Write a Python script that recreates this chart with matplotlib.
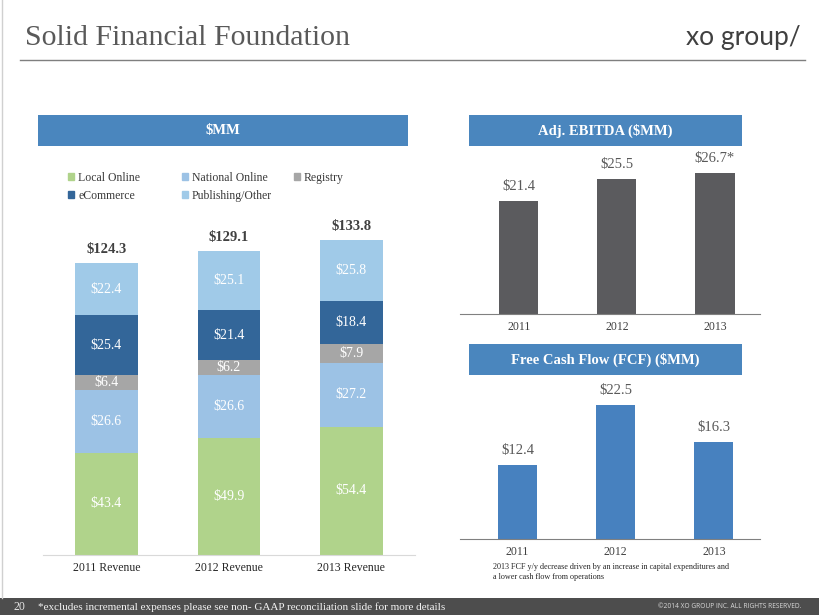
import matplotlib
matplotlib.use('Agg')
import matplotlib.pyplot as plt
from matplotlib.patches import Rectangle, Patch
from matplotlib.lines import Line2D
import numpy as np

plt.rcParams['font.family'] = ['Liberation Serif', 'DejaVu Serif']

W, H = 820, 615

# данні
rev_cats = ['2011 Revenue', '2012 Revenue', '2013 Revenue']
rev_series = ['Local Online', 'National Online', 'Registry', 'eCommerce', 'Publishing/Other']
local_online = [43.4, 49.9, 54.4]
national_online = [26.6, 26.6, 27.2]
registry = [6.4, 6.2, 7.9]
ecommerce = [25.4, 21.4, 18.4]
publishing = [22.4, 25.1, 25.8]
rev_totals = [124.3, 129.1, 133.8]

years = ['2011', '2012', '2013']
ebitda = [21.4, 25.5, 26.7]
ebitda_labels = ['$21.4', '$25.5', '$26.7*']
fcf = [12.4, 22.5, 16.3]

seg_colors = ['#B0D38B', '#9CC2E5', '#A6A6A6', '#336699', '#A0CAE8']
header_blue = '#4A86BE'


def fx(px):
    return px / W


def fy(py):
    return 1 - py / H


def box(x0, y0, x1, y1):
    return [fx(x0), fy(y1), fx(x1) - fx(x0), fy(y0) - fy(y1)]


fig = plt.figure(figsize=(8.2, 6.15), dpi=100)
fig.patch.set_facecolor('white')

# заголовок
fig.text(fx(25), fy(38), 'Solid Financial Foundation', fontsize=21.5, color='#595959',
         ha='left', va='center')
fig.text(fx(801), fy(37), 'xo group/', fontsize=19, color='#404040', ha='right', va='center',
         family=['Lato', 'DejaVu Sans'])
fig.add_artist(Line2D([fx(20), fx(805)], [fy(60), fy(60)], color='#7F7F7F', lw=1,
                      transform=fig.transFigure))
fig.add_artist(Line2D([fx(2), fx(2)], [fy(0), fy(598)], color='#D0D0D0', lw=1,
                      transform=fig.transFigure))


def header(x0, y0, x1, y1, text):
    fig.add_artist(Rectangle((fx(x0), fy(y1)), fx(x1) - fx(x0), fy(y0) - fy(y1),
                             transform=fig.transFigure, color=header_blue, lw=0))
    fig.text(fx((x0 + x1) / 2), fy((y0 + y1) / 2), text, color='white', fontsize=10.5,
             fontweight='bold', ha='center', va='center')


header(38, 115, 408, 146, '$MM')
header(469, 115, 742, 146, 'Adj. EBITDA ($MM)')
header(469, 344, 742, 375, 'Free Cash Flow (FCF) ($MM)')

# Стовпчаста діаграма доходу
ax = fig.add_axes(box(43, 165, 415, 555))
x = np.arange(len(rev_cats))
bottom = np.zeros(len(rev_cats))
handles = []
for name, vals, col in zip(rev_series, [local_online, national_online, registry, ecommerce, publishing],
                           seg_colors):
    ax.bar(x, vals, bottom=bottom, width=0.51, color=col, lw=0)
    for xi, b, v in zip(x, bottom, vals):
        ax.text(xi, b + v / 2, '$%.1f' % v, color='white', fontsize=10, ha='center', va='center')
    bottom = bottom + np.array(vals)
    handles.append(Patch(color=col, label=name))
for xi, top, t in zip(x, bottom, rev_totals):
    ax.annotate('$%.1f' % t, (xi, top), xytext=(0, 5), textcoords='offset points',
                ha='center', va='bottom', fontsize=10.5, fontweight='bold', color='#404040')
ax.set_xlim(-0.517, 2.52)
ax.set_ylim(0, 165.7)
ax.set_xticks(x)
ax.set_xticklabels(rev_cats, fontsize=8.5, color='#262626')
ax.tick_params(length=0, pad=5)
ax.set_yticks([])
for s in ['top', 'right', 'left']:
    ax.spines[s].set_visible(False)
ax.spines['bottom'].set_color('#D9D9D9')

# легенда по колонках
cols = [([0, 3], 68), ([1, 4], 182), ([2], 294)]
for k, (idx, px) in enumerate(cols):
    leg = ax.legend([handles[i] for i in idx], [rev_series[i] for i in idx], loc='upper left',
                    bbox_to_anchor=(fx(px), fy(172)), bbox_transform=fig.transFigure,
                    frameon=False, fontsize=8.5, handlelength=0.5, handleheight=0.5,
                    handletextpad=0.35, labelspacing=0.5, borderpad=0, borderaxespad=0,
                    labelcolor='#3A3A3A')
    if k < len(cols) - 1:
        ax.add_artist(leg)


def small_bars(rect, vals, labels, color, xlim, ytop):
    a = fig.add_axes(rect)
    xs = np.arange(len(vals))
    a.bar(xs, vals, width=0.4, color=color, lw=0)
    for xi, v, lab in zip(xs, vals, labels):
        a.annotate(lab, (xi, v), xytext=(0, 6), textcoords='offset points', ha='center',
                   va='bottom', fontsize=10.5, color='#595959')
    a.set_xlim(*xlim)
    a.set_ylim(0, ytop)
    a.set_xticks(xs)
    a.set_xticklabels(years, fontsize=8.5, color='#404040')
    a.tick_params(length=0, pad=5)
    a.set_yticks([])
    for s in ['top', 'right', 'left']:
        a.spines[s].set_visible(False)
    a.spines['bottom'].set_color('#808080')
    return a


small_bars(box(460, 150, 760, 314), ebitda, ebitda_labels, '#5B5B5E', (-0.6, 2.46), 164 / 5.28)
small_bars(box(460, 380, 760, 539), fcf, ['$%.1f' % v for v in fcf], '#4781BF', (-0.585, 2.47),
           159 / 5.95)

fig.text(fx(493), fy(567), '2013 FCF y/y decrease driven by an increase in capital expenditures and',
         fontsize=5.9, color='#262626', ha='left', va='center')
fig.text(fx(493), fy(577), 'a lower cash flow from operations',
         fontsize=5.9, color='#262626', ha='left', va='center')

# нижня смуга
fig.add_artist(Rectangle((0, 0), 1, fy(598), transform=fig.transFigure, color='#4D4D4D', lw=0))
fig.text(fx(14), fy(607), '20', fontsize=8.5, color='#E6E6E6', ha='left', va='center')
fig.text(fx(38), fy(607), '*excludes incremental expenses please see non- GAAP reconciliation slide for more details',
         fontsize=8, color='#F2F2F2', ha='left', va='center')
fig.text(fx(801), fy(607), '\u00a92014 XO GROUP INC. ALL RIGHTS RESERVED.', fontsize=4.8,
         color='#D9D9D9', ha='right', va='center', family=['Open Sans', 'DejaVu Sans'])

fig.savefig('out.png', dpi=100)
